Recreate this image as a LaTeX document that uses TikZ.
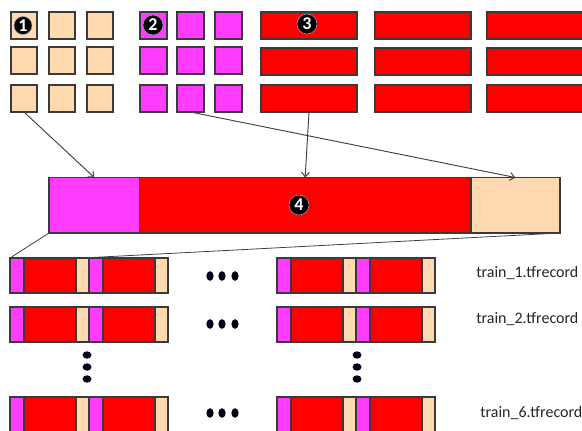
\documentclass[tikz,border=0pt]{standalone}
\usepackage{fontspec}
\setmainfont{Carlito}
\usetikzlibrary{arrows.meta}
\definecolor{peach}{HTML}{FFDAB0}
\definecolor{pink}{HTML}{FF3CFF}
\definecolor{brick}{HTML}{FF0000}
\definecolor{edge}{HTML}{3A3A3A}
\definecolor{wire}{HTML}{404040}

\begin{document}
\begin{tikzpicture}[x=0.75pt,y=-0.75pt,
  cell/.style={draw=edge,line width=1.2pt,inner sep=0pt,outer sep=0pt,anchor=north west},
  num/.style={circle,fill=black,draw=black!60!blue!40,line width=0.4pt,text=white,
    font=\bfseries\fontsize{13.5}{13.5}\selectfont,inner sep=0pt},
  link/.style={draw=wire,line width=0.7pt,-{Straight Barb[length=3.5pt,width=6pt]}},
  guide/.style={draw=wire,line width=0.6pt},
  fname/.style={anchor=west,text=black!85,font=\fontsize{12}{14}\selectfont,inner sep=0pt},
  dot/.style={fill=black!90!blue}]
\useasboundingbox (0,0) rectangle (582,430);
\clip (0,0) rectangle (582,430);

% 3x3 grid of peach squares
\foreach \r/\y in {1/12,2/47,3/85}{
  \foreach \c/\x in {1/11,2/49,3/87}{
    \node[cell,fill=peach,minimum width=26*0.75pt,minimum height=27*0.75pt] (p\r\c) at (\x,\y) {};
  }
}
% 3x3 grid of pink squares
\foreach \r/\y in {1/12,2/47,3/85}{
  \foreach \c/\x in {1/140,2/177,3/215}{
    \node[cell,fill=pink,minimum width=27*0.75pt,minimum height=27*0.75pt] (m\r\c) at (\x,\y) {};
  }
}
% 3x3 grid of red bars
\foreach \r/\y in {1/12,2/48,3/85}{
  \foreach \c/\x in {1/261,2/375,3/487}{
    \node[cell,fill=brick,minimum width=96*0.75pt,minimum height=27*0.75pt] (b\r\c) at (\x,\y) {};
  }
}

% combined bar
\node[cell,fill=pink,minimum width=90.6*0.75pt,minimum height=55.5*0.75pt] (bm) at (49,177.5) {};
\node[cell,fill=brick,minimum width=331.1*0.75pt,minimum height=55.5*0.75pt] (br) at (139.6,177.5) {};
\node[cell,fill=peach,minimum width=89.3*0.75pt,minimum height=55.5*0.75pt] (bp) at (470.7,177.5) {};

% records: rows x groups x halves
\foreach \row/\gy in {1/258,2/307,3/397}{
  \foreach \grp/\gx in {1/10,2/277}{
    \foreach \h in {1,2}{
      \pgfmathsetmacro\hx{\gx+(\h-1)*79}
      \node[cell,fill=pink,minimum width=14*0.75pt,minimum height=35*0.75pt] (r\row-\grp-\h-m) at (\hx,\gy) {};
      \node[cell,fill=brick,minimum width=52*0.75pt,minimum height=35*0.75pt] (r\row-\grp-\h-r) at (\hx+14,\gy) {};
      \node[cell,fill=peach,minimum width=13*0.75pt,minimum height=35*0.75pt] (r\row-\grp-\h-p) at (\hx+66,\gy) {};
    }
  }
}

% numbered markers
\node[num,minimum size=18*0.75pt] (n1) at (23,25.5) {1};
\node[num,minimum size=20*0.75pt] (n2) at (153,25) {2};
\node[num,minimum size=20*0.75pt] (n3) at (307,24) {3};
\node[num,minimum size=20*0.75pt] (n4) at (299,205) {4};

% arrows into the combined bar
\draw[link] (p31.south) -- (bm.north);
\draw[link] (b31.south) -- (br.north);
\draw[link] (m32.south) -- (bp.north);

% guide lines down to the first record
\draw[guide] (bm.south west) -- (r1-1-1-m.north west);
\draw[guide] (bp.south east) -- (r1-1-1-p.north);

% horizontal ellipses between groups
\foreach \y in {276,324,413}{
  \foreach \x in {210,222,235}{
    \fill[dot] (\x,\y) ellipse [x radius=3.6*0.75pt, y radius=4.8*0.75pt];
  }
}
% vertical ellipses between rows
\foreach \x in {87,357}{
  \foreach \y in {355,367,379}{
    \fill[dot] (\x,\y) ellipse [x radius=4.5*0.75pt, y radius=3.7*0.75pt];
  }
}

% file names
\node[fname] (f1) at (476,273) {train\_1.tfrecord};
\node[fname] (f2) at (476,319) {train\_2.tfrecord};
\node[fname] (f6) at (480,413) {train\_6.tfrecord};
\end{tikzpicture}
\end{document}
